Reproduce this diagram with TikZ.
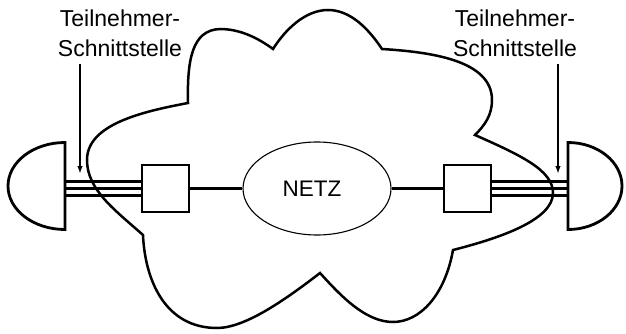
\documentclass[tikz,border=0pt]{standalone}
\usepackage{fontspec}
\setmainfont{Liberation Sans}
\usetikzlibrary{arrows.meta,shapes.geometric}

\begin{document}
\begin{tikzpicture}[x=1pt,y=-1pt,
  cloudline/.style={line width=2.5pt, line join=miter},
  domeline/.style={line width=2.8pt, line join=miter},
  wire/.style={line width=2.2pt},
  link/.style={line width=2.1pt},
  unit/.style={draw, line width=1.3pt, fill=white, minimum size=47pt, inner sep=0pt},
  netzshape/.style={ellipse, draw, line width=1.1pt, minimum width=148pt, minimum height=93pt, inner sep=0pt, font=\fontsize{22.5}{26}\selectfont},
  lbl/.style={anchor=base, inner sep=0pt, font=\fontsize{23}{28}\selectfont},
  pointer/.style={line width=1.8pt, -{Latex[length=8pt,width=5.5pt]}}
]
\useasboundingbox (0,0) rectangle (626,334);

% network cloud: seven lobes meeting in sharp cusps
\draw[cloudline]
  (143,235) .. controls (115,210) and (87,190) .. (87,160)
            .. controls (87,125) and (140,112) .. (188,103)
            .. controls (187,60) and (192,30) .. (220,29)
            .. controls (240,29) and (258,38) .. (273,49)
            .. controls (285,30) and (305,10) .. (328,10)
            .. controls (350,10) and (368,28) .. (382,49)
            .. controls (430,52) and (492,60) .. (492,100)
            .. controls (492,115) and (485,125) .. (475,135)
            .. controls (520,155) and (553,170) .. (553,193)
            .. controls (553,220) and (500,238) .. (453,250)
            .. controls (445,295) and (420,322) .. (393,322)
            .. controls (365,322) and (340,295) .. (320,273)
            .. controls (285,300) and (245,328) .. (217,328)
            .. controls (165,328) and (145,280) .. (143,235)
  -- cycle;

% subscriber terminals (half domes)
\draw[domeline] (65,142.5) arc[start angle=270, end angle=90, x radius=57, y radius=43.5] -- cycle;
\draw[domeline] (568,142.5) arc[start angle=270, end angle=450, x radius=54, y radius=43.5] -- cycle;
\coordinate (termL) at (65,188.5);
\coordinate (termR) at (568,188.5);

% network nodes
\node[unit] (boxL) at (165.5,188.5) {};
\node[unit] (boxR) at (467.5,188.5) {};
\node[netzshape] (netz) at (317,188.5) {\hspace*{-10pt}NETZ};

% three-wire subscriber lines
\foreach \d in {-7,0,7} {
  \draw[wire] ([yshift=\d pt]termL) -- ([yshift=\d pt]boxL.west);
  \draw[wire] ([yshift=\d pt]boxR.east) -- ([yshift=\d pt]termR);
}

% trunk links
\draw[link] (boxL) -- (netz);
\draw[link] (netz) -- (boxR);

% interface labels
\node[lbl] (tL1) at (120,27) {Teilnehmer-};
\node[lbl] (tL2) at (120,57) {Schnittstelle};
\node[lbl] (tR1) at (515,27) {Teilnehmer-};
\node[lbl] (tR2) at (515,57) {Schnittstelle};

\coordinate (aL0) at (80,64);
\coordinate (aL1) at (80,174);
\coordinate (aR0) at (558,64);
\coordinate (aR1) at (558,174);
\draw[pointer] (aL0) -- (aL1);
\draw[pointer] (aR0) -- (aR1);
\end{tikzpicture}
\end{document}
